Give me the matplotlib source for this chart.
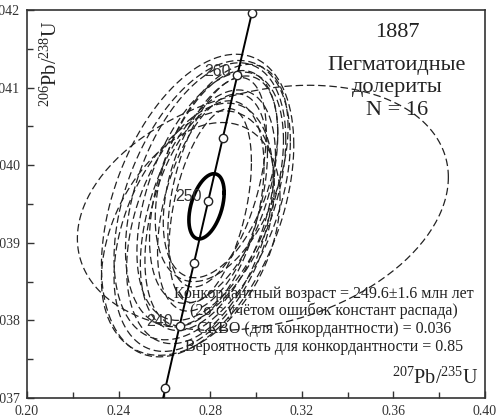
import numpy as np
import matplotlib

matplotlib.use("Agg")
import matplotlib.pyplot as plt
from matplotlib.ticker import MultipleLocator, FormatStrFormatter

plt.rcParams["font.family"] = "Liberation Serif"
plt.rcParams["mathtext.fontset"] = "custom"
plt.rcParams["mathtext.rm"] = "Liberation Serif"
plt.rcParams["mathtext.it"] = "Liberation Serif:italic"

# concordia curve, ratios at ages (Ma)
conc_age = [230, 235, 240, 245, 250, 255, 260, 265, 270]
conc_x = [0.25422, 0.26043, 0.26665, 0.27290, 0.27917, 0.28549, 0.29184, 0.29822, 0.30462]
conc_y = [0.036323, 0.037127, 0.037932, 0.038737, 0.039543, 0.040350, 0.041157, 0.041965, 0.042773]
marker_ages = [235, 240, 245, 250, 255, 260, 265]
label_ages = [240, 250, 260]

# analysis ellipses: centre, half-extent in x and y, correlation
ell_x = [0.2745, 0.2765, 0.2780, 0.2800, 0.2790, 0.2815, 0.2775, 0.2810,
         0.2755, 0.2830, 0.2730, 0.2845, 0.2715, 0.2800, 0.2850, 0.3030]
ell_y = [0.03948, 0.03955, 0.03962, 0.03960, 0.03942, 0.03972, 0.03938, 0.03952,
         0.03925, 0.03978, 0.03915, 0.03985, 0.03905, 0.03948, 0.03990, 0.03945]
ell_sx = [0.0420, 0.0385, 0.0350, 0.0320, 0.0295, 0.0280, 0.0260, 0.0240,
          0.0320, 0.0215, 0.0350, 0.0250, 0.0390, 0.0180, 0.0290, 0.0810]
ell_sy = [0.00195, 0.00180, 0.00170, 0.00160, 0.00155, 0.00150, 0.00145, 0.00140,
          0.00155, 0.00135, 0.00155, 0.00130, 0.00150, 0.00125, 0.00140, 0.00158]
ell_rho = [0.40, 0.42, 0.42, 0.45, 0.45, 0.45, 0.42, 0.45,
           0.38, 0.48, 0.38, 0.45, 0.35, 0.45, 0.42, 0.25]

# concordia age ellipse
mean_x, mean_y = 0.2784, 0.03947
mean_sx, mean_sy, mean_rho = 0.0077, 0.00042, 0.42

title_lines = ["1887", "Пегматоидные", "долериты", "N = 16"]
result_lines = [
    "Конкордантный возраст = 249.6±1.6 млн лет",
    "(2σ с учётом ошибок констант распада)",
    "СКВО (для конкордантности) = 0.036",
    "Вероятность для конкордантности = 0.85",
]


def ellipse_xy(cx, cy, sx, sy, rho, n=240):
    t = np.linspace(0, 2 * np.pi, n)
    x = cx + sx * np.cos(t)
    y = cy + sy * (rho * np.cos(t) + np.sqrt(1 - rho ** 2) * np.sin(t))
    return x, y


W, H = 501, 420
L, B, R, T = 27, 398, 485, 10


def frac(px, py):
    return (px - L) / (R - L), (B - py) / (B - T)


fig = plt.figure(figsize=(W / 100, H / 100), dpi=100)
ax = fig.add_axes([L / W, (H - B) / H, (R - L) / W, (B - T) / H])

for cx, cy, sx, sy, rho in zip(ell_x, ell_y, ell_sx, ell_sy, ell_rho):
    ex, ey = ellipse_xy(cx, cy, sx, sy, rho)
    ax.plot(ex, ey, color="#222222", lw=0.9, dashes=(6, 3), zorder=2)

ax.plot(conc_x, conc_y, color="black", lw=1.4, zorder=3)
mx = [x for a, x in zip(conc_age, conc_x) if a in marker_ages]
my = [y for a, y in zip(conc_age, conc_y) if a in marker_ages]
ax.plot(mx, my, "o", ms=6, mfc="white", mec="#222222", mew=1.0, zorder=5)

for a, x, y in zip(conc_age, conc_x, conc_y):
    if a in label_ages:
        ax.annotate(str(a), (x, y), xytext=(-5, 3), textcoords="offset points",
                    ha="right", va="center", fontsize=11.5, color="#333333",
                    family="Liberation Sans", zorder=6)

ex, ey = ellipse_xy(mean_x, mean_y, mean_sx, mean_sy, mean_rho)
ax.plot(ex, ey, color="black", lw=2.6, zorder=4)

ax.set_xlim(0.20, 0.40)
ax.set_ylim(0.037, 0.042)
ax.xaxis.set_major_locator(MultipleLocator(0.04))
ax.xaxis.set_minor_locator(MultipleLocator(0.02))
ax.yaxis.set_major_locator(MultipleLocator(0.001))
ax.yaxis.set_minor_locator(MultipleLocator(0.0005))
ax.xaxis.set_major_formatter(FormatStrFormatter("%.2f"))
ax.yaxis.set_major_formatter(FormatStrFormatter("%.3f"))
ax.tick_params(which="both", direction="in", color="#333333", width=1.0,
               labelsize=10, labelcolor="#333333", pad=5)
ax.tick_params(which="major", length=5)
ax.tick_params(which="minor", length=4)
for s in ax.spines.values():
    s.set_color("#333333")
    s.set_linewidth(1.2)

# axis labels inside the frame
fx, fy = frac(51, 20)
ax.text(fx, fy, r"$^{206}$Pb/$^{238}$U", transform=ax.transAxes, rotation=90,
        ha="center", va="top", fontsize=14.5, color="#222222")
fx, fy = frac(479, 384)
ax.text(fx, fy, r"$^{207}$Pb/$^{235}$U", transform=ax.transAxes,
        ha="right", va="baseline", fontsize=14.5, color="#222222")

for line, py in zip(title_lines, [37, 70, 92, 115]):
    fx, fy = frac(397, py)
    ax.text(fx, fy, line, transform=ax.transAxes, ha="center", va="baseline",
            fontsize=16, color="#222222", zorder=7)

for line, py in zip(result_lines, [298, 315, 333, 351]):
    fx, fy = frac(324, py)
    ax.text(fx, fy, line, transform=ax.transAxes, ha="center", va="baseline",
            fontsize=11.5, color="#222222", zorder=7)

fig.savefig("out.png", dpi=100)
